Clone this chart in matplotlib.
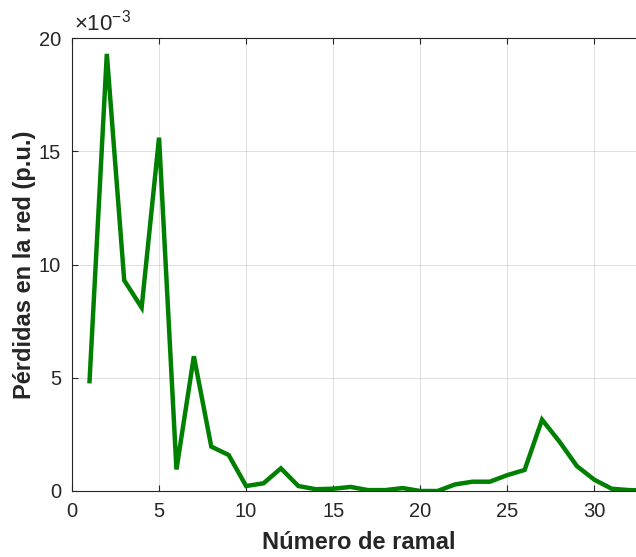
import matplotlib
matplotlib.use("Agg")
import matplotlib.pyplot as plt
from matplotlib.ticker import FuncFormatter

plt.rcParams["font.family"] = ["Liberation Sans", "DejaVu Sans"]
plt.rcParams["mathtext.fontset"] = "custom"
plt.rcParams["mathtext.rm"] = "Liberation Sans"
plt.rcParams["mathtext.it"] = "Liberation Sans"

# Pérdidas por ramal (p.u.)
ramal = list(range(1, 34))
perdidas = [0.00475, 0.0193, 0.0093, 0.0081, 0.0156, 0.00095, 0.00595,
            0.00196, 0.00159, 0.00022, 0.00034, 0.00100, 0.00022, 0.00008,
            0.00010, 0.00018, 0.00004, 0.00004, 0.00013, 0.00000, 0.00000,
            0.00029, 0.00041, 0.00041, 0.00070, 0.00093, 0.00315, 0.00218,
            0.00110, 0.00050, 0.00010, 0.00004, 0.00002]

dark = (0.15, 0.15, 0.15)

fig = plt.figure(figsize=(6.36, 5.57), dpi=100)
ax = fig.add_axes([72 / 636, 66 / 557, 574.5 / 636, 453 / 557])

ax.plot(ramal, perdidas, color=(0, 0.5, 0), linewidth=3.2,
        solid_joinstyle="miter", solid_capstyle="butt")

ax.set_xlim(0, 33)
ax.set_ylim(0, 0.020)
ax.set_xticks([0, 5, 10, 15, 20, 25, 30])
ax.set_yticks([0, 0.005, 0.010, 0.015, 0.020])
ax.yaxis.set_major_formatter(FuncFormatter(lambda v, p: f"{v * 1e3:g}"))
ax.text(0.003, 1.006, r"$\times$10$^{\mathregular{-3}}$", transform=ax.transAxes,
        fontsize=16, color=dark, ha="left", va="bottom")

ax.grid(True, color=dark, alpha=0.15, linewidth=0.7)
ax.tick_params(direction="in", length=4, width=0.8, colors=dark,
               labelsize=14.5, top=True, right=True, pad=8)
for s in ax.spines.values():
    s.set_color(dark)
    s.set_linewidth(0.8)

ax.set_xlabel("Número de ramal", fontsize=17, fontweight="bold",
              color=dark, labelpad=7)
ax.set_ylabel("Pérdidas en la red (p.u.)", fontsize=17,
              fontweight="bold", color=dark, labelpad=2)

fig.savefig("out.png", dpi=100)
